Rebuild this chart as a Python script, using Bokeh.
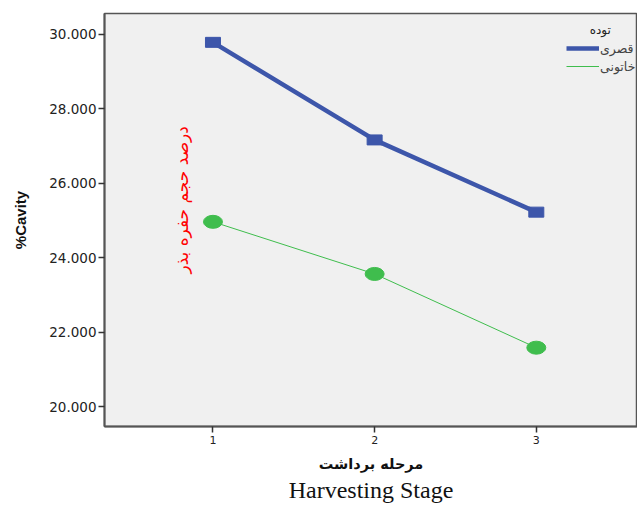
import math
from bokeh.plotting import figure
from bokeh.models import (ColumnDataSource, FixedTicker, NumeralTickFormatter, Legend,
                          LegendItem, Label, Title, Range1d)
from bokeh.embed import file_html
from bokeh.resources import INLINE

stages = [1, 2, 3]
qasri = [29.78, 27.16, 25.22]
khatuni = [24.96, 23.56, 21.58]
y_ticks = [20, 22, 24, 26, 28, 30]
legend_title = "توده"
series_names = ["قصری", "خاتونی"]

BLUE = "#3d56aa"
GREEN = "#3fbd4d"

p = figure(width=637, height=505, output_backend="svg", toolbar_location=None,
           x_range=Range1d(0.329, 3.626), y_range=Range1d(19.463, 30.555),
           min_border_left=104, min_border_top=13, min_border_right=0, min_border_bottom=79)
p.background_fill_color = "#f0f0f0"
p.border_fill_color = "white"
p.xgrid.visible = False
p.ygrid.visible = False
p.outline_line_color = "#555555"
p.outline_line_width = 1.5

src_b = ColumnDataSource(dict(x=stages, y=qasri))
src_g = ColumnDataSource(dict(x=stages, y=khatuni))

lb = p.line("x", "y", source=src_b, line_color=BLUE, line_width=4.5)
mb = p.rect("x", "y", width=15, height=10, width_units="screen", height_units="screen",
            source=src_b, fill_color=BLUE, line_color=BLUE)
lg = p.line("x", "y", source=src_g, line_color=GREEN, line_width=1)
mg = p.ellipse("x", "y", width=19, height=13, width_units="screen", height_units="screen",
               source=src_g, fill_color=GREEN, line_color=GREEN)

# axes
for ax in (p.xaxis[0], p.yaxis[0]):
    ax.axis_line_color = "#555555"
    ax.axis_line_width = 2
    ax.major_tick_line_color = "#333333"
    ax.major_tick_line_width = 1.5
    ax.major_tick_out = 6
    ax.major_tick_in = 0
    ax.minor_tick_line_color = None
    ax.major_label_text_font = "DejaVu Sans"
    ax.major_label_text_font_size = "13.5px"
    ax.major_label_text_color = "#222222"

p.yaxis.ticker = FixedTicker(ticks=y_ticks)
p.yaxis.formatter = NumeralTickFormatter(format="0.000")
p.yaxis.major_label_standoff = 2
p.yaxis.axis_label = "%Cavity"
p.yaxis.axis_label_text_font = "Liberation Sans"
p.yaxis.axis_label_text_font_style = "bold"
p.yaxis.axis_label_text_font_size = "15px"
p.yaxis.axis_label_text_color = "#111111"
p.yaxis.axis_label_standoff = 17

p.xaxis.ticker = FixedTicker(ticks=stages)
p.xaxis.major_label_standoff = 3
p.xaxis.major_label_text_font_size = "11px"
p.xaxis.axis_label = "مرحله برداشت"
p.xaxis.axis_label_text_font = "DejaVu Sans"
p.xaxis.axis_label_text_font_style = "bold"
p.xaxis.axis_label_text_font_size = "14.5px"
p.xaxis.axis_label_text_color = "#111111"
p.xaxis.axis_label_standoff = 9

p.add_layout(Title(text="Harvesting Stage", align="center", text_font="Liberation Serif",
                   text_font_size="24px", text_font_style="normal", text_color="#111111",
                   standoff=0), "below")

# red rotated annotation
p.add_layout(Label(x=0.81, y=25.55, text="درصد حجم حفره بذر", angle=math.pi / 2,
                   text_align="center", text_baseline="middle", text_color="red",
                   text_font="DejaVu Sans", text_font_size="17px"))

# legend
legend = Legend(items=[LegendItem(label=series_names[0], renderers=[lb]),
                       LegendItem(label=series_names[1], renderers=[lg])],
                location=(462, 351), padding=0, margin=0, spacing=0,
                glyph_width=33, glyph_height=18, label_height=18, label_standoff=1,
                label_text_font="DejaVu Sans", label_text_font_size="12.5px",
                background_fill_alpha=0, border_line_color=None)
p.add_layout(legend)
p.add_layout(Label(x=3.396, y=30.1, text=legend_title, text_align="center",
                   text_baseline="middle", text_font="DejaVu Sans",
                   text_font_size="12px", text_color="#222222"))

open("out.html", "w").write(file_html(p, INLINE))
